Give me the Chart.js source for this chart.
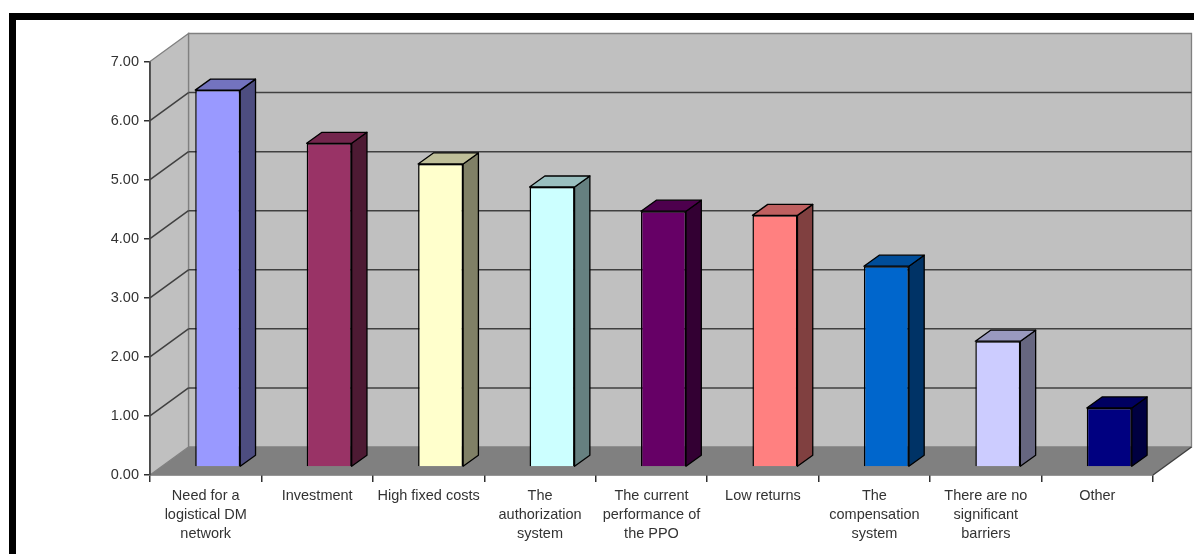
<!DOCTYPE html>
<html>
<head>
<meta charset="utf-8">
<title>Barriers</title>
<style>
html, body { margin: 0; padding: 0; background: #fff; }
#wrap { position: relative; width: 1194px; height: 554px; }
</style>
<script src="https://cdn.jsdelivr.net/npm/chart.js@4/dist/chart.umd.min.js"></script>
</head>
<body>
<div id="wrap"><canvas id="myChart" width="1194" height="554"></canvas></div>
<script>
var categories = [
	["Need for a", "logistical DM", "network"],
	"Investment",
	"High fixed costs",
	["The", "authorization", "system"],
	["The current", "performance of", "the PPO"],
	"Low returns",
	["The", "compensation", "system"],
	["There are no", "significant", "barriers"],
	"Other",
];
var values = [6.38, 5.48, 5.13, 4.74, 4.33, 4.26, 3.4, 2.13, 1.0];
var barColors = ["#9999FF", "#993366", "#FFFFCC", "#CCFFFF", "#660066", "#FF8080", "#0066CC", "#CCCCFF", "#000080"];

// depth of the box the chart sits in, and of each column
var wallDx = 38.5, wallDy = -28;
var barDx = 15.3, barDy = -11;
var barShiftX = 12, barShiftY = -8;

function shade(hex, f) {
	var n = parseInt(hex.slice(1), 16);
	var r = Math.round(((n >> 16) & 255) * f);
	var g = Math.round(((n >> 8) & 255) * f);
	var b = Math.round((n & 255) * f);
	return "rgb(" + r + "," + g + "," + b + ")";
}

function poly(ctx, pts, fill, stroke) {
	ctx.beginPath();
	ctx.moveTo(pts[0][0], pts[0][1]);
	for (var i = 1; i < pts.length; i++) ctx.lineTo(pts[i][0], pts[i][1]);
	ctx.closePath();
	if (fill) {
		ctx.fillStyle = fill;
		ctx.fill();
	}
	if (stroke) {
		ctx.strokeStyle = stroke;
		ctx.lineWidth = 1.3;
		ctx.stroke();
	}
}

function line(ctx, x1, y1, x2, y2, color) {
	ctx.beginPath();
	ctx.moveTo(x1, y1);
	ctx.lineTo(x2, y2);
	ctx.strokeStyle = color;
	ctx.lineWidth = 1.5;
	ctx.stroke();
}

var framePlugin = {
	id: "frame",
	beforeDraw: function (chart) {
		var ctx = chart.ctx;
		ctx.save();
		ctx.fillStyle = "#000";
		ctx.fillRect(9, 13, 1185, 7);
		ctx.fillRect(9, 13, 7, 541);
		ctx.restore();
	},
};

// walls, floor and gridlines of the 3D box
var boxPlugin = {
	id: "box",
	beforeDatasetsDraw: function (chart) {
		var ctx = chart.ctx;
		var a = chart.chartArea;
		var y = chart.scales.y;
		ctx.save();
		poly(ctx, [[a.left + wallDx, a.top + wallDy], [a.right + wallDx, a.top + wallDy], [a.right + wallDx, a.bottom + wallDy], [a.left + wallDx, a.bottom + wallDy]], "#C0C0C0", "#808080");
		poly(ctx, [[a.left, a.top], [a.left + wallDx, a.top + wallDy], [a.left + wallDx, a.bottom + wallDy], [a.left, a.bottom]], "#C0C0C0", "#808080");
		poly(ctx, [[a.left, a.bottom], [a.left + wallDx, a.bottom + wallDy], [a.right + wallDx, a.bottom + wallDy], [a.right, a.bottom]], "#808080", null);
		line(ctx, a.right, a.bottom, a.right + wallDx, a.bottom + wallDy, "#404040");
		line(ctx, a.left, a.top, a.left, a.bottom, "#404040");
		for (var v = 1; v <= 6; v++) {
			var py = y.getPixelForValue(v);
			line(ctx, a.left, py, a.left + wallDx, py + wallDy, "#404040");
			line(ctx, a.left + wallDx, py + wallDy, a.right + wallDx, py + wallDy, "#404040");
		}
		ctx.restore();
	},
	// columns stand a little way back on the floor
	beforeDatasetDraw: function (chart, args) {
		var ctx = chart.ctx;
		var bars = args.meta.data;
		ctx.save();
		ctx.translate(barShiftX, barShiftY);
		ctx.lineJoin = "round";
		for (var i = 0; i < bars.length; i++) {
			var b = bars[i];
			var l = b.x - b.width / 2, r = b.x + b.width / 2;
			poly(ctx, [[r, b.y], [r + barDx, b.y + barDy], [r + barDx, b.base + barDy], [r, b.base]], shade(barColors[i], 0.5), "#000");
			poly(ctx, [[l, b.y], [l + barDx, b.y + barDy], [r + barDx, b.y + barDy], [r, b.y]], shade(barColors[i], 0.75), "#000");
		}
	},
	afterDatasetDraw: function (chart) {
		chart.ctx.restore();
	},
};

var labelFont = { family: "'Liberation Sans', Arial, sans-serif", size: 14.5, lineHeight: 1.31 };

var graphData = {
	type: "bar",
	data: {
		labels: categories,
		datasets: [
			{
				data: values,
				backgroundColor: barColors,
				borderColor: "#000",
				borderWidth: 1.5,
				barPercentage: 0.404,
				categoryPercentage: 1,
			},
		],
	},
	options: {
		responsive: false,
		animation: false,
		layout: { padding: { top: 61.5, right: 41, left: 0, bottom: 0 } },
		plugins: { legend: { display: false }, tooltip: { enabled: false }, title: { display: false } },
		scales: {
			x: {
				offset: true,
				border: { display: true, color: "#303030", width: 1.5 },
				grid: { offset: true, drawOnChartArea: false, drawTicks: true, tickLength: 7, color: "#303030", lineWidth: 1.5 },
				ticks: { color: "#333", font: labelFont, maxRotation: 0, autoSkip: false, padding: 5 },
				afterFit: function (scale) {
					scale.height = 79;
				},
			},
			y: {
				min: 0,
				max: 7,
				border: { display: true, color: "#303030", width: 1.5 },
				grid: { drawOnChartArea: false, drawTicks: true, tickLength: 6, color: "#303030", lineWidth: 1.5 },
				ticks: {
					stepSize: 1,
					color: "#333",
					font: labelFont,
					padding: 5,
					callback: function (v) {
						return v.toFixed(2);
					},
				},
				afterFit: function (scale) {
					scale.width = 150;
				},
			},
		},
	},
	plugins: [framePlugin, boxPlugin],
};

var myChart = new Chart(document.getElementById("myChart").getContext("2d"), graphData);
</script>
</body>
</html>
